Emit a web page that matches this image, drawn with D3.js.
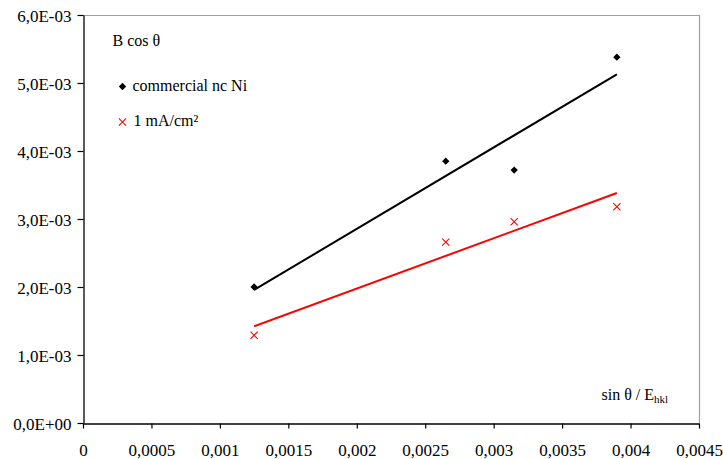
<!DOCTYPE html>
<html>
<head>
<meta charset="utf-8">
<script src="https://cdn.jsdelivr.net/npm/d3@7/dist/d3.min.js"></script>
</head>
<body style="margin:0;background:#fff">
<svg id="chart" width="723" height="459" style="display:block"></svg>
<script>
// ---- data ----
const xValues = [0.00125, 0.00265, 0.00315, 0.0039];
const commercialNi = [2.0e-3, 3.85e-3, 3.72e-3, 5.38e-3];
const mA1 = [1.29e-3, 2.66e-3, 2.96e-3, 3.18e-3];
const xTicks = [0, 0.0005, 0.001, 0.0015, 0.002, 0.0025, 0.003, 0.0035, 0.004, 0.0045];
const xTickLabels = ["0", "0,0005", "0,001", "0,0015", "0,002", "0,0025", "0,003", "0,0035", "0,004", "0,0045"];
const yTicks = [0, 1e-3, 2e-3, 3e-3, 4e-3, 5e-3, 6e-3];
const yTickLabels = ["0,0E+00", "1,0E-03", "2,0E-03", "3,0E-03", "4,0E-03", "5,0E-03", "6,0E-03"];
const seriesNames = ["commercial nc Ni", "1 mA/cm²"];

// ---- layout ----
const FONT = "'Liberation Serif', 'Times New Roman', serif";
const W = 723, H = 459;
const m = { left: 83, top: 15, right: 24, bottom: 36 };
const svg = d3.select("#chart");
const x = d3.scaleLinear().domain([0, 0.0045]).range([m.left, W - m.right]);
const y = d3.scaleLinear().domain([0, 0.006]).range([H - m.bottom, m.top]);

// frame (top/right gray)
svg.append("line").attr("x1", m.left).attr("x2", W - m.right).attr("y1", m.top + 0.5).attr("y2", m.top + 0.5)
  .attr("stroke", "#a0a0a0").attr("stroke-width", 1.2);
svg.append("line").attr("x1", W - m.right + 0.5).attr("x2", W - m.right + 0.5).attr("y1", m.top).attr("y2", H - m.bottom)
  .attr("stroke", "#a0a0a0").attr("stroke-width", 1.2);

// axes
const xAxis = d3.axisBottom(x).tickValues(xTicks).tickFormat((d, i) => xTickLabels[i]).tickSize(5).tickSizeOuter(0);
const yAxis = d3.axisLeft(y).tickValues(yTicks).tickFormat((d, i) => yTickLabels[i]).tickSize(6).tickSizeOuter(0);

const gx = svg.append("g").attr("transform", `translate(0,${H - m.bottom + 0.5})`).call(xAxis);
const gy = svg.append("g").attr("transform", `translate(${m.left + 0.5},0)`).call(yAxis);
[gx, gy].forEach(g => {
  g.attr("font-family", null).attr("font-size", null);
  g.select(".domain").attr("stroke", "#000").attr("stroke-width", 1.3);
  g.selectAll(".tick line").attr("stroke", "#000").attr("stroke-width", 1.2);
  g.selectAll("text").style("font-family", FONT).style("font-size", "17px").attr("fill", "#000");
});
gx.selectAll("text").attr("dy", null).attr("y", 32);
gy.selectAll("text").attr("x", -12).attr("dy", null).attr("y", 6);

// regression trend lines
function fit(xs, ys) {
  const mx = d3.mean(xs), my = d3.mean(ys);
  const sxy = d3.sum(xs, (v, i) => (v - mx) * (ys[i] - my));
  const sxx = d3.sum(xs, v => (v - mx) * (v - mx));
  const b = sxy / sxx, a = my - b * mx;
  const x0 = d3.min(xs), x1 = d3.max(xs);
  return [[x0, a + b * x0], [x1, a + b * x1]];
}
const line = d3.line().x(d => x(d[0])).y(d => y(d[1]));
svg.append("path").attr("d", line(fit(xValues, commercialNi))).attr("stroke", "#000").attr("stroke-width", 2).attr("fill", "none");
svg.append("path").attr("d", line(fit(xValues, mA1))).attr("stroke", "#ff0000").attr("stroke-width", 2).attr("fill", "none");

// markers
const diamond = d3.symbol().type(d3.symbolDiamond2).size(34);
function drawDiamond(cx, cy) {
  svg.append("path").attr("d", diamond()).attr("transform", `translate(${cx},${cy})`).attr("fill", "#000");
}
function drawCross(cx, cy) {
  const s = 3.6;
  svg.append("path").attr("d", `M${cx - s},${cy - s}L${cx + s},${cy + s}M${cx - s},${cy + s}L${cx + s},${cy - s}`)
    .attr("stroke", "#ff0000").attr("stroke-width", 1.1).attr("fill", "none");
}
xValues.forEach((v, i) => drawDiamond(x(v), y(commercialNi[i])));
xValues.forEach((v, i) => drawCross(x(v), y(mA1[i])));

// legend / labels
function label(tx, ty, str) {
  return svg.append("text").attr("x", tx).attr("y", ty)
    .style("font-family", FONT).style("font-size", "16px").attr("fill", "#000").text(str);
}
label(112.5, 46, "B cos θ");
drawDiamond(122.5, 86.5);
label(132.5, 91, seriesNames[0]);
drawCross(122.5, 122);
label(133.5, 125.5, seriesNames[1]);

// x axis title
const t = label(601.5, 399.5, "");
t.append("tspan").text("sin θ / E");
t.append("tspan").style("font-size", "11px").attr("dy", 3).text("hkl");
</script>
</body>
</html>
